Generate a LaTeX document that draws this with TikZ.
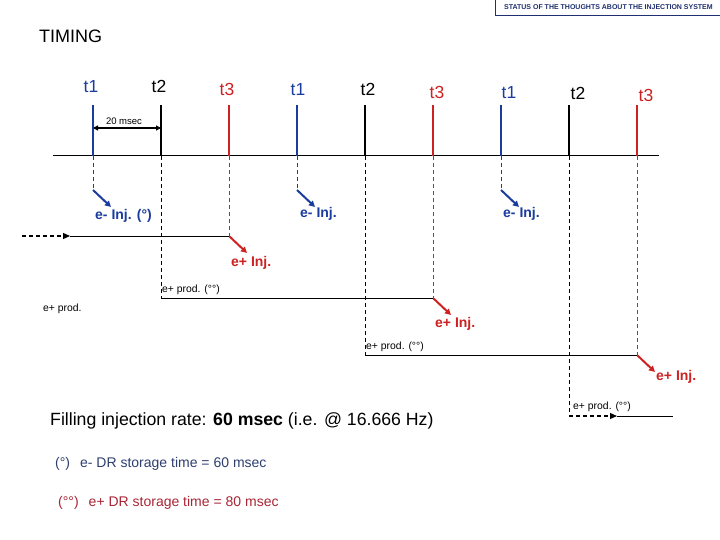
\documentclass[tikz,border=0pt]{standalone}
\usepackage{fontspec}
\setmainfont{Liberation Sans}
\usetikzlibrary{arrows.meta}
\definecolor{tblue}{HTML}{1A3C9E}
\definecolor{tred}{HTML}{CC2222}
\definecolor{hblue}{HTML}{1F2F6F}
\definecolor{nblue}{HTML}{2E3F6E}
\definecolor{nred}{HTML}{A82535}
\begin{document}
\begin{tikzpicture}[x=1pt,y=-1pt,
  tickline/.style={line width=2.6pt},
  dashline/.style={line width=0.8pt,dash pattern=on 4pt off 3pt},
  injarrow/.style={line width=2pt,-{Triangle[length=6pt,width=6pt]}},
  tlab/.style={inner sep=0pt,font=\fontsize{17.5}{18}\selectfont},
  injlab/.style={inner sep=0pt,anchor=west,font=\fontsize{14}{14}\selectfont\bfseries},
  small/.style={inner sep=0pt,anchor=west,font=\fontsize{10.4}{11}\selectfont},
  prodline/.style={line width=0.9pt}]
\useasboundingbox (0,0) rectangle (720,540);
% header
\node[draw=hblue,line width=0.9pt,text=hblue,inner sep=0pt,anchor=north west,minimum width=226pt,minimum height=17pt,font=\fontsize{7}{7}\selectfont\bfseries] (hdr) at (495,-2) {STATUS OF THE THOUGHTS ABOUT THE INJECTION SYSTEM};
\node[inner sep=0pt,anchor=west,font=\fontsize{18}{18}\selectfont] (timing) at (39,36) {TIMING};
% timeline
\coordinate (L0) at (53,156);
\coordinate (L1) at (659,156);
\draw[line width=1pt] (L0) -- (L1);
% ticks
\foreach \n/\x/\c in {a/93/tblue,b/161/black,c/229/tred,d/297/tblue,e/365/black,f/433/tred,g/501/tblue,h/569/black,i/637/tred}{
  \coordinate (top\n) at (\x,105);
  \coordinate (bot\n) at (\x,156);
  \draw[tickline,\c] (top\n) -- (bot\n);
}
% tick labels
\node[tlab,text=tblue] (la) at (91,87) {t1};
\node[tlab] (lb) at (159,86) {t2};
\node[tlab,text=tred] (lc) at (227,89) {t3};
\node[tlab,text=tblue] (ld) at (298,90) {t1};
\node[tlab] (le) at (368,89) {t2};
\node[tlab,text=tred] (lf) at (437,92) {t3};
\node[tlab,text=tblue] (lg) at (509,93) {t1};
\node[tlab] (lh) at (578,93) {t2};
\node[tlab,text=tred] (li) at (646,95) {t3};
% 20 msec
\coordinate (ma) at (93,128);
\coordinate (mb) at (161,128);
\draw[line width=1.1pt,{Triangle[length=5pt,width=5pt]}-{Triangle[length=5pt,width=5pt]}] (ma) -- (mb);
\node[inner sep=0pt,font=\fontsize{9.5}{10}\selectfont] (msec) at (124,121) {20 msec};
% e- injections
\foreach \n/\x in {a/93,d/297,g/501}{
  \coordinate (knee\n) at (\x,190);
  \coordinate (tip\n) at (\x+18,207);
  \draw[dashline,tblue] (bot\n) -- (knee\n);
  \draw[injarrow,tblue] (knee\n) -- (tip\n);
}
\node[injlab,text=tblue] (ia) at (95,216) {e- Inj. (°)};
\node[injlab,text=tblue] (id) at (300,214) {e- Inj.};
\node[injlab,text=tblue] (ig) at (503,214) {e- Inj.};
% e+ injections
\coordinate (kneec) at (229,236);
\coordinate (kneef) at (433,298);
\coordinate (kneei) at (637,355);
\draw[dashline,tred,line width=0.6pt] (botc) -- (kneec);
\draw[dashline,tred,line width=0.6pt] (botf) -- (kneef);
\draw[dashline,tred,line width=0.6pt] (boti) -- (kneei);
\draw[injarrow,tred] (kneec) -- ++(18,17) coordinate (tipc);
\draw[injarrow,tred] (kneef) -- ++(18,17) coordinate (tipf);
\draw[injarrow,tred] (kneei) -- ++(18,17) coordinate (tipi);
\node[injlab,text=tred] (ic) at (231,263) {e+ Inj.};
\node[injlab,text=tred] (if) at (435,324) {e+ Inj.};
\node[injlab,text=tred] (ii) at (656,377) {e+ Inj.};
% e+ production
\coordinate (s0) at (22,236);
\coordinate (s1) at (70,236);
\draw[dashline,line width=1.2pt,-{Triangle[length=7pt,width=6pt]}] (s0) -- (s1);
\draw[prodline] (s1) -- (kneec);
\coordinate (kneeb) at (161,298);
\coordinate (kneee) at (365,355);
\coordinate (kneeh) at (569,416);
\draw[dashline] (botb) -- (kneeb);
\draw[dashline] (bote) -- (kneee);
\draw[dashline] (both) -- (kneeh);
\draw[prodline] (kneeb) -- (kneef);
\draw[prodline] (kneee) -- (kneei);
\coordinate (q1) at (617,416);
\coordinate (q2) at (673,416);
\draw[dashline,line width=1.2pt,-{Triangle[length=7pt,width=6pt]}] (kneeh) -- (q1);
\draw[prodline] (q1) -- (q2);
\node[small] (pb) at (162,290) {e+ prod. (°°)};
\node[small] (pe) at (366,347) {e+ prod. (°°)};
\node[small] (ph) at (573,407) {e+ prod. (°°)};
\node[small] (p0) at (43,309) {e+ prod.};
% text
\node[inner sep=0pt,anchor=west,font=\fontsize{17.7}{18}\selectfont] (fill) at (50,421) {Filling injection rate: \textbf{60 msec} (i.e. @ 16.666 Hz)};
\node[inner sep=0pt,anchor=west,text=nblue,font=\fontsize{14}{15}\selectfont] (n1) at (55,464) {(°)\hspace{10pt}e- DR storage time = 60 msec};
\node[inner sep=0pt,anchor=west,text=nred,font=\fontsize{14}{15}\selectfont] (n2) at (58,503) {(°°)\hspace{10pt}e+ DR storage time = 80 msec};
\end{tikzpicture}
\end{document}
